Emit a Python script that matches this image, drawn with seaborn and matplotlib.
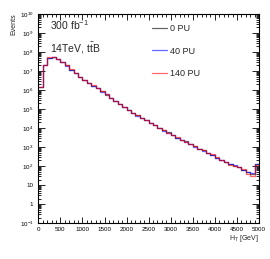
import matplotlib
matplotlib.use("Agg")
import matplotlib.pyplot as plt
import matplotlib.ticker as mticker
import numpy as np
import pandas as pd
import seaborn as sns

# H_T histogram, 100 GeV bins from 0 to 5000 GeV
bin_edges = list(range(0, 5001, 100))

events_0pu = [1.4e6, 2.0e7, 5.0e7, 5.4e7, 4.3e7, 3.0e7, 2.0e7, 1.2e7, 7.6e6, 4.8e6,
              3.2e6, 2.4e6, 1.7e6, 1.26e6, 8.5e5, 5.8e5, 3.8e5, 2.6e5, 1.9e5, 1.26e5,
              8.9e4, 6.3e4, 4.7e4, 3.5e4, 2.6e4, 1.9e4, 1.45e4, 1.05e4, 7600, 6000,
              4400, 3200, 2450, 2000, 1450, 1100, 830, 680, 500, 410,
              275, 220, 166, 126, 107, 91, 66, 49, 41, 126]
events_40pu = [1.4e6, 2.0e7, 5.1e7, 5.4e7, 4.3e7, 3.0e7, 1.95e7, 1.2e7, 7.5e6, 4.8e6,
               3.2e6, 2.35e6, 1.7e6, 1.22e6, 8.4e5, 5.9e5, 3.7e5, 2.6e5, 1.85e5, 1.25e5,
               8.7e4, 6.2e4, 4.6e4, 3.5e4, 2.55e4, 1.85e4, 1.42e4, 1.0e4, 7400, 5700,
               4300, 3100, 2400, 1900, 1400, 1050, 800, 650, 480, 400,
               265, 215, 160, 128, 110, 88, 62, 48, 44, 126]
events_140pu = [1.5e6, 2.1e7, 5.2e7, 5.6e7, 4.5e7, 3.1e7, 2.05e7, 1.25e7, 7.8e6, 4.9e6,
                3.3e6, 2.4e6, 1.75e6, 1.28e6, 8.7e5, 5.9e5, 3.9e5, 2.65e5, 1.9e5, 1.3e5,
                9.0e4, 6.4e4, 4.8e4, 3.4e4, 2.6e4, 1.95e4, 1.5e4, 1.05e4, 7700, 5900,
                4400, 3300, 2500, 1950, 1500, 1100, 850, 690, 520, 430,
                290, 225, 165, 122, 105, 88, 70, 40, 30, 120]

series_labels = ["0 PU", "40 PU", "140 PU"]
series_colors = ["black", "blue", "red"]

sns.set_style("ticks")
plt.rcParams["font.family"] = ["Liberation Sans", "DejaVu Sans"]
plt.rcParams["mathtext.fontset"] = "custom"
plt.rcParams["mathtext.rm"] = "Liberation Sans"
plt.rcParams["mathtext.it"] = "Liberation Sans:italic"
plt.rcParams["mathtext.bf"] = "Liberation Sans:bold"

W, H = 270, 259
fig = plt.figure(figsize=(W / 100, H / 100), dpi=100)
x0, x1, ytop, ybot = 38.3, 259, 14, 223.3
ax = fig.add_axes([x0 / W, 1 - ybot / H, (x1 - x0) / W, (ybot - ytop) / H])

for vals, lab, col in zip([events_0pu, events_40pu, events_140pu], series_labels, series_colors):
    # step outline: each bin's left edge, plus the last value repeated at the right edge
    df = pd.DataFrame({"HT": bin_edges, "Events": list(vals) + [vals[-1]]})
    sns.lineplot(data=df, x="HT", y="Events", drawstyle="steps-post", color=col,
                 alpha=0.6, linewidth=0.9, label=lab, ax=ax)

ax.set_yscale("log")
ax.set_xlim(0, 5000)
ax.set_ylim(0.1, 1e10)
ax.set_xlabel("")
ax.set_ylabel("")

ax.xaxis.set_major_locator(mticker.MultipleLocator(500))
ax.xaxis.set_minor_locator(mticker.MultipleLocator(100))
yt = [10.0 ** k for k in range(-1, 11)]
ax.yaxis.set_major_locator(mticker.FixedLocator(yt))
ax.yaxis.set_minor_locator(mticker.LogLocator(base=10, subs=np.arange(2, 10), numticks=30))
ylabels = []
for k in range(-1, 11):
    if k == 0:
        ylabels.append("1")
    elif k == 1:
        ylabels.append("10")
    else:
        ylabels.append(r"$10^{%d}$" % k)
ax.yaxis.set_major_formatter(mticker.FixedFormatter(ylabels))
ax.yaxis.set_minor_formatter(mticker.NullFormatter())

ax.tick_params(which="both", direction="in", top=True, right=True, width=0.6,
               labelsize=4.5, colors="black")
ax.tick_params(axis="y", which="major", length=5, pad=3.5)
ax.tick_params(axis="y", which="minor", length=2.5)
ax.tick_params(axis="x", which="major", length=4, pad=3)
ax.tick_params(axis="x", which="minor", length=2)
for sp in ax.spines.values():
    sp.set_linewidth(0.8)
    sp.set_color("black")

fig.text(13.5 / W, 1 - 13.5 / H, "Events", rotation=90, ha="center", va="top", fontsize=5)
fig.text(x1 / W, 1 - 239 / H, r"H$_{\mathregular{T}}$ [GeV]", ha="right", va="center", fontsize=5)

fig.text(49.5 / W, 1 - 30 / H, r"300 fb$^{\mathregular{-1}}$", ha="left", va="baseline", fontsize=7.5)
fig.text(49.5 / W, 1 - 52 / H, r"14TeV, $\mathregular{t\bar{t}}$B", ha="left", va="baseline", fontsize=7.5)

ax.legend(loc="upper left",
          bbox_to_anchor=(151.5 / W, 1 - 24 / H), bbox_transform=fig.transFigure,
          frameon=False, fontsize=6.5, borderpad=0, borderaxespad=0,
          handlelength=1.7, handletextpad=0.3, labelspacing=1.5)

fig.savefig("out.png", dpi=100)
